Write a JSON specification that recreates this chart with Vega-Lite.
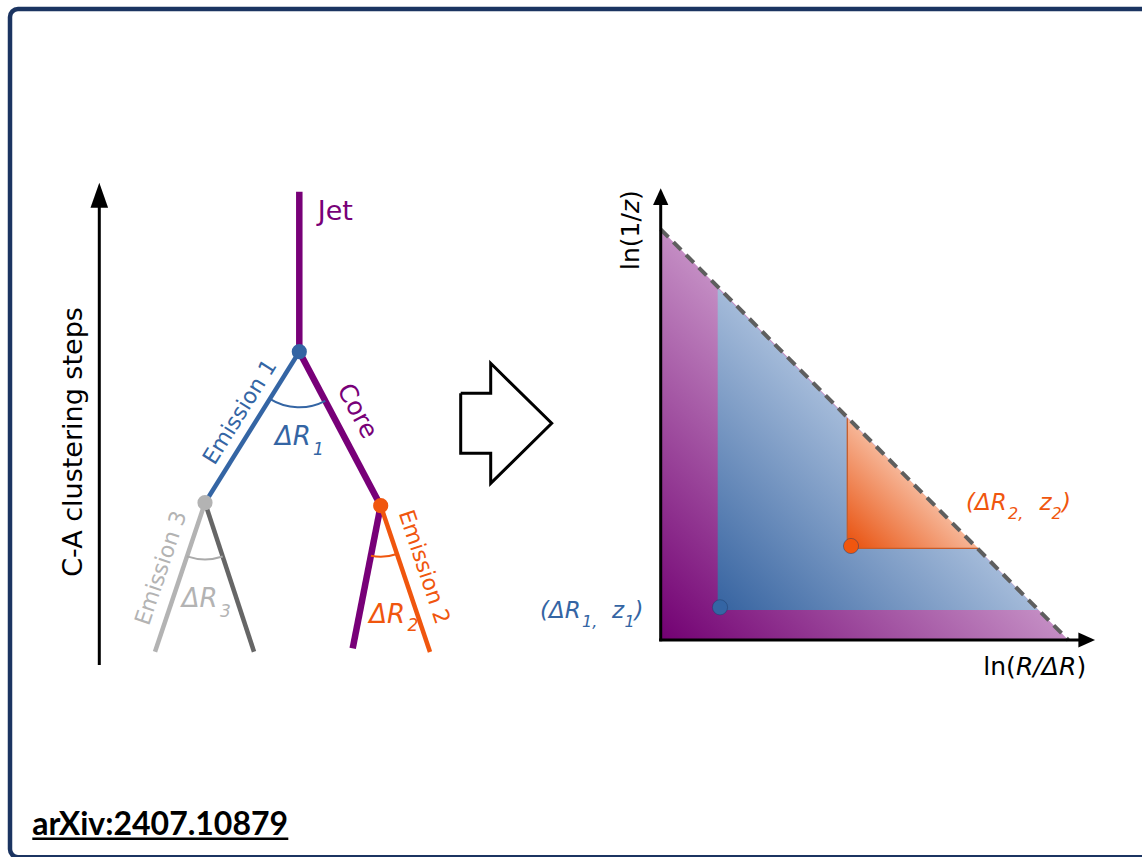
{
  "$schema": "https://vega.github.io/schema/vega-lite/v6.json",
  "width": 1142,
  "height": 857,
  "padding": 0,
  "autosize": {"type": "none"},
  "background": "#ffffff",
  "config": {"view": {"stroke": null}},
  "datasets": {
    "branches": [
      {"segment": "jet", "part": "Jet", "x": 299.3, "y": 191.7, "x2": 299.3, "y2": 351.7},
      {"segment": "core", "part": "Jet", "x": 299.3, "y": 351.7, "x2": 380.7, "y2": 505.7},
      {"segment": "core after emission 2", "part": "Jet", "x": 380.7, "y": 505.7, "x2": 352.7, "y2": 648.3},
      {"segment": "emission 1", "part": "Emission 1", "x": 299.3, "y": 351.7, "x2": 205, "y2": 502.7},
      {"segment": "emission 2", "part": "Emission 2", "x": 380.7, "y": 505.7, "x2": 430, "y2": 652},
      {"segment": "emission 3", "part": "Emission 3", "x": 205, "y": 502.7, "x2": 155, "y2": 651.7},
      {"segment": "emission 3 partner", "part": "Partner", "x": 205, "y": 502.7, "x2": 254, "y2": 651.7}
    ],
    "axes": [
      {"axis": "clustering steps", "part": "Axis", "x": 99.3, "y": 665, "x2": 99.3, "y2": 200},
      {"axis": "ln(1/z)", "part": "Axis", "x": 660.7, "y": 641.3, "x2": 660.7, "y2": 200},
      {"axis": "ln(R/dR)", "part": "Axis", "x": 659.2, "y": 640, "x2": 1082, "y2": 640}
    ],
    "nodes": [
      {"node": "split 1", "part": "Emission 1", "x": 299.3, "y": 351.7},
      {"node": "split 3", "part": "Emission 3", "x": 205, "y": 502.7},
      {"node": "split 2", "part": "Emission 2", "x": 380.7, "y": 505.7}
    ],
    "plane": [
      {"emission": "1", "part": "Emission 1", "x": 720, "y": 607.3},
      {"emission": "2", "part": "Emission 2", "x": 851, "y": 546}
    ],
    "bigArrow": [
      {"i": 0, "x": 460.7, "y": 393.3},
      {"i": 1, "x": 490.7, "y": 393.3},
      {"i": 2, "x": 490.7, "y": 363.3},
      {"i": 3, "x": 551.7, "y": 423.3},
      {"i": 4, "x": 490.7, "y": 483.3},
      {"i": 5, "x": 490.7, "y": 453.3},
      {"i": 6, "x": 460.7, "y": 453.3},
      {"i": 7, "x": 460.7, "y": 393.3}
    ],
    "treeDeltas": [
      {"text": "ΔR", "part": "Emission 1", "x": 275, "y": 445},
      {"text": "ΔR", "part": "Emission 3", "x": 181.7, "y": 607.3},
      {"text": "ΔR", "part": "Emission 2", "x": 369.3, "y": 622.7}
    ],
    "treeSubscripts": [
      {"text": "1", "part": "Emission 1", "x": 313, "y": 455},
      {"text": "3", "part": "Emission 3", "x": 220, "y": 617},
      {"text": "2", "part": "Emission 2", "x": 407.5, "y": 631}
    ],
    "pointLabels": [
      {"text": "(ΔR", "part": "Emission 2", "x": 966, "y": 509.5},
      {"text": "z", "part": "Emission 2", "x": 1039.5, "y": 509.5},
      {"text": ")", "part": "Emission 2", "x": 1062, "y": 509.5},
      {"text": "(ΔR", "part": "Emission 1", "x": 540, "y": 617.5},
      {"text": "z", "part": "Emission 1", "x": 612, "y": 617.5},
      {"text": ")", "part": "Emission 1", "x": 634.5, "y": 617.5}
    ],
    "pointSubscripts": [
      {"text": "2,", "part": "Emission 2", "x": 1008, "y": 518.5},
      {"text": "2", "part": "Emission 2", "x": 1051.5, "y": 518.5},
      {"text": "1,", "part": "Emission 1", "x": 582, "y": 626.5},
      {"text": "1", "part": "Emission 1", "x": 624.5, "y": 626.5}
    ]
  },
  "encoding": {
    "x": {"field": "x", "type": "quantitative", "scale": {"domain": [0, 1142], "nice": false, "zero": false}, "axis": null},
    "y": {"field": "y", "type": "quantitative", "scale": {"domain": [0, 857], "nice": false, "zero": false, "reverse": true}, "axis": null}
  },
  "layer": [
    {
      "data": {"values": [{"x": 10, "y": 9, "x2": 1165, "y2": 857.2}]},
      "mark": {"type": "rect", "fill": "transparent", "stroke": "#1b3461", "strokeWidth": 4.5, "cornerRadius": 8},
      "encoding": {"x2": {"field": "x2"}, "y2": {"field": "y2"}}
    },
    {
      "data": {"values": [{"x": 660.7, "y": 229.3, "y2": 640}, {"x": 1068.3, "y": 640, "y2": 640}]},
      "mark": {"type": "area", "orient": "vertical", "color": {"gradient": "linear", "x1": 0, "y1": 1, "x2": 0.5, "y2": 0.5, "stops": [{"offset": 0, "color": "#720072"}, {"offset": 1, "color": "#c38cc3"}]}},
      "encoding": {"y2": {"field": "y2"}}
    },
    {
      "data": {"values": [{"x": 717.7, "y": 288.3, "y2": 610}, {"x": 1038.3, "y": 610, "y2": 610}]},
      "mark": {"type": "area", "orient": "vertical", "color": {"gradient": "linear", "x1": 0, "y1": 1, "x2": 0.5, "y2": 0.5, "stops": [{"offset": 0, "color": "#3663a0"}, {"offset": 1, "color": "#a3bad9"}]}},
      "encoding": {"y2": {"field": "y2"}}
    },
    {
      "data": {"values": [{"x": 847.3, "y": 418.3, "y2": 548.3}, {"x": 978.3, "y": 548.3, "y2": 548.3}]},
      "mark": {"type": "area", "orient": "vertical", "color": {"gradient": "linear", "x1": 0, "y1": 1, "x2": 0.5, "y2": 0.5, "stops": [{"offset": 0, "color": "#e84e0a"}, {"offset": 1, "color": "#f6b596"}]}},
      "encoding": {"y2": {"field": "y2"}}
    },
    {
      "data": {"values": [{"x": 847.3, "y": 418.3, "x2": 847.3, "y2": 548.3}, {"x": 847.3, "y": 548.3, "x2": 978.3, "y2": 548.3}]},
      "mark": {"type": "rule", "color": "#c65c2a", "strokeWidth": 1.3},
      "encoding": {"x2": {"field": "x2"}, "y2": {"field": "y2"}}
    },
    {
      "data": {"values": [{"x": 660.7, "y": 229.3, "x2": 1068.3, "y2": 640}]},
      "mark": {"type": "rule", "color": "#5e5e5e", "strokeWidth": 4, "strokeDash": [11, 7]},
      "encoding": {"x2": {"field": "x2"}, "y2": {"field": "y2"}}
    },
    {
      "data": {"name": "branches"},
      "transform": [{"filter": "datum.part === 'Jet'"}],
      "mark": {"type": "rule", "strokeWidth": 6.5},
      "encoding": {
        "x2": {"field": "x2"}, "y2": {"field": "y2"},
        "color": {"field": "part", "type": "nominal", "legend": null, "scale": {"domain": ["Jet", "Emission 1", "Emission 2", "Emission 3", "Partner", "Axis"], "range": ["#780078", "#3465a4", "#f0560e", "#b3b3b3", "#666666", "#000000"]}}
      }
    },
    {
      "data": {"name": "branches"},
      "transform": [{"filter": "datum.part !== 'Jet'"}],
      "mark": {"type": "rule", "strokeWidth": 4.5},
      "encoding": {
        "x2": {"field": "x2"}, "y2": {"field": "y2"},
        "color": {"field": "part", "type": "nominal", "legend": null, "scale": {"domain": ["Jet", "Emission 1", "Emission 2", "Emission 3", "Partner", "Axis"], "range": ["#780078", "#3465a4", "#f0560e", "#b3b3b3", "#666666", "#000000"]}}
      }
    },
    {
      "data": {"name": "axes"},
      "mark": {"type": "rule", "strokeWidth": 3},
      "encoding": {
        "x2": {"field": "x2"}, "y2": {"field": "y2"},
        "color": {"field": "part", "type": "nominal", "legend": null, "scale": {"domain": ["Jet", "Emission 1", "Emission 2", "Emission 3", "Partner", "Axis"], "range": ["#780078", "#3465a4", "#f0560e", "#b3b3b3", "#666666", "#000000"]}}
      }
    },
    {
      "data": {"values": [{"x": 99.3, "y": 195.2}]},
      "mark": {"type": "point", "shape": "M0,-1L0.704,1L-0.704,1Z", "size": 625, "filled": true, "opacity": 1, "color": "#000000", "strokeWidth": 0}
    },
    {
      "data": {"values": [{"x": 660.7, "y": 196.7}]},
      "mark": {"type": "point", "shape": "M0,-1L0.916,1L-0.916,1Z", "size": 279, "filled": true, "opacity": 1, "color": "#000000", "strokeWidth": 0}
    },
    {
      "data": {"values": [{"x": 1086.7, "y": 640}]},
      "mark": {"type": "point", "shape": "M1,0L-1,0.9L-1,-0.9Z", "size": 279, "filled": true, "opacity": 1, "color": "#000000", "strokeWidth": 0}
    },
    {
      "data": {"values": [{"x": 299.3, "y": 351.7}]},
      "mark": {"type": "arc", "theta": 2.655, "theta2": 3.7, "radius": 56.6, "radius2": 54.6, "color": "#3465a4"}
    },
    {
      "data": {"values": [{"x": 205, "y": 502.7}]},
      "mark": {"type": "arc", "theta": 2.824, "theta2": 3.466, "radius": 57.6, "radius2": 55.6, "color": "#aaaaaa"}
    },
    {
      "data": {"values": [{"x": 380.7, "y": 505.7}]},
      "mark": {"type": "arc", "theta": 2.816, "theta2": 3.335, "radius": 52, "radius2": 50, "color": "#f0560e"}
    },
    {
      "data": {"name": "nodes"},
      "mark": {"type": "point", "shape": "circle", "size": 230, "filled": true, "opacity": 1, "strokeWidth": 0},
      "encoding": {
        "color": {"field": "part", "type": "nominal", "legend": null, "scale": {"domain": ["Jet", "Emission 1", "Emission 2", "Emission 3", "Partner", "Axis"], "range": ["#780078", "#3465a4", "#f0560e", "#b3b3b3", "#666666", "#000000"]}}
      }
    },
    {
      "data": {"name": "plane"},
      "mark": {"type": "point", "shape": "circle", "size": 230, "filled": true, "opacity": 1, "stroke": "#1d3a66", "strokeOpacity": 0.45, "strokeWidth": 1},
      "encoding": {
        "color": {"field": "part", "type": "nominal", "legend": null, "scale": {"domain": ["Jet", "Emission 1", "Emission 2", "Emission 3", "Partner", "Axis"], "range": ["#780078", "#3465a4", "#f0560e", "#b3b3b3", "#666666", "#000000"]}}
      }
    },
    {
      "data": {"name": "bigArrow"},
      "mark": {"type": "line", "color": "#000000", "strokeWidth": 3, "strokeJoin": "miter"},
      "encoding": {"order": {"field": "i", "type": "quantitative"}}
    },
    {
      "data": {"values": [{"text": "Jet", "x": 317.7, "y": 220}]},
      "mark": {"type": "text", "align": "left", "baseline": "alphabetic", "font": "DejaVu Sans", "fontSize": 27, "color": "#780078"},
      "encoding": {"text": {"field": "text"}}
    },
    {
      "data": {"values": [{"text": "ln(", "x": 983.3, "y": 675}, {"text": ")", "x": 1076.5, "y": 675}]},
      "mark": {"type": "text", "align": "left", "baseline": "alphabetic", "font": "DejaVu Sans", "fontSize": 25, "color": "#000000"},
      "encoding": {"text": {"field": "text"}}
    },
    {
      "data": {"values": [{"text": "R/ΔR", "x": 1016, "y": 675}]},
      "mark": {"type": "text", "align": "left", "baseline": "alphabetic", "font": "DejaVu Sans", "fontStyle": "italic", "fontSize": 25, "color": "#000000"},
      "encoding": {"text": {"field": "text"}}
    },
    {
      "data": {"name": "treeDeltas"},
      "mark": {"type": "text", "align": "left", "baseline": "alphabetic", "font": "DejaVu Sans", "fontStyle": "italic", "fontSize": 26},
      "encoding": {
        "text": {"field": "text"},
        "color": {"field": "part", "type": "nominal", "legend": null, "scale": {"domain": ["Jet", "Emission 1", "Emission 2", "Emission 3", "Partner", "Axis"], "range": ["#780078", "#3465a4", "#f0560e", "#b3b3b3", "#666666", "#000000"]}}
      }
    },
    {
      "data": {"name": "treeSubscripts"},
      "mark": {"type": "text", "align": "left", "baseline": "alphabetic", "font": "DejaVu Sans", "fontStyle": "italic", "fontSize": 17},
      "encoding": {
        "text": {"field": "text"},
        "color": {"field": "part", "type": "nominal", "legend": null, "scale": {"domain": ["Jet", "Emission 1", "Emission 2", "Emission 3", "Partner", "Axis"], "range": ["#780078", "#3465a4", "#f0560e", "#b3b3b3", "#666666", "#000000"]}}
      }
    },
    {
      "data": {"name": "pointLabels"},
      "mark": {"type": "text", "align": "left", "baseline": "alphabetic", "font": "DejaVu Sans", "fontStyle": "italic", "fontSize": 23},
      "encoding": {
        "text": {"field": "text"},
        "color": {"field": "part", "type": "nominal", "legend": null, "scale": {"domain": ["Jet", "Emission 1", "Emission 2", "Emission 3", "Partner", "Axis"], "range": ["#780078", "#3465a4", "#f0560e", "#b3b3b3", "#666666", "#000000"]}}
      }
    },
    {
      "data": {"name": "pointSubscripts"},
      "mark": {"type": "text", "align": "left", "baseline": "alphabetic", "font": "DejaVu Sans", "fontStyle": "italic", "fontSize": 16},
      "encoding": {
        "text": {"field": "text"},
        "color": {"field": "part", "type": "nominal", "legend": null, "scale": {"domain": ["Jet", "Emission 1", "Emission 2", "Emission 3", "Partner", "Axis"], "range": ["#780078", "#3465a4", "#f0560e", "#b3b3b3", "#666666", "#000000"]}}
      }
    },
    {
      "data": {"values": [{"text": "Emission 1", "x": 240, "y": 412}]},
      "mark": {"type": "text", "align": "center", "baseline": "middle", "angle": 302, "font": "DejaVu Sans", "fontSize": 22, "color": "#3465a4"},
      "encoding": {"text": {"field": "text"}}
    },
    {
      "data": {"values": [{"text": "Core", "x": 357.5, "y": 411}]},
      "mark": {"type": "text", "align": "center", "baseline": "middle", "angle": 62, "font": "DejaVu Sans", "fontSize": 25, "color": "#780078"},
      "encoding": {"text": {"field": "text"}}
    },
    {
      "data": {"values": [{"text": "Emission 3", "x": 161, "y": 568}]},
      "mark": {"type": "text", "align": "center", "baseline": "middle", "angle": 288.6, "font": "DejaVu Sans", "fontSize": 22, "color": "#b3b3b3"},
      "encoding": {"text": {"field": "text"}}
    },
    {
      "data": {"values": [{"text": "Emission 2", "x": 424, "y": 567}]},
      "mark": {"type": "text", "align": "center", "baseline": "middle", "angle": 71.4, "font": "DejaVu Sans", "fontSize": 22, "color": "#f0560e"},
      "encoding": {"text": {"field": "text"}}
    },
    {
      "data": {"values": [{"text": "C-A clustering steps", "x": 82, "y": 442}]},
      "mark": {"type": "text", "align": "center", "baseline": "alphabetic", "angle": 270, "font": "DejaVu Sans", "fontSize": 27, "color": "#000000"},
      "encoding": {"text": {"field": "text"}}
    },
    {
      "data": {"values": [{"text": "ln(1/", "x": 639, "y": 270}, {"text": ")", "x": 639, "y": 200}]},
      "mark": {"type": "text", "align": "left", "baseline": "alphabetic", "angle": 270, "font": "DejaVu Sans", "fontSize": 25, "color": "#000000"},
      "encoding": {"text": {"field": "text"}}
    },
    {
      "data": {"values": [{"text": "z", "x": 639, "y": 213.1}]},
      "mark": {"type": "text", "align": "left", "baseline": "alphabetic", "angle": 270, "font": "DejaVu Sans", "fontStyle": "italic", "fontSize": 25, "color": "#000000"},
      "encoding": {"text": {"field": "text"}}
    },
    {
      "data": {"values": [{"text": "arXiv:2407.10879", "x": 32.3, "y": 835}]},
      "mark": {"type": "text", "align": "left", "baseline": "alphabetic", "font": "Lato", "fontWeight": "bold", "fontSize": 32, "color": "#000000"},
      "encoding": {"text": {"field": "text"}}
    },
    {
      "data": {"values": [{"x": 32.3, "y": 838.7, "x2": 288.3}]},
      "mark": {"type": "rule", "color": "#000000", "strokeWidth": 2.5},
      "encoding": {"x2": {"field": "x2"}}
    }
  ]
}
